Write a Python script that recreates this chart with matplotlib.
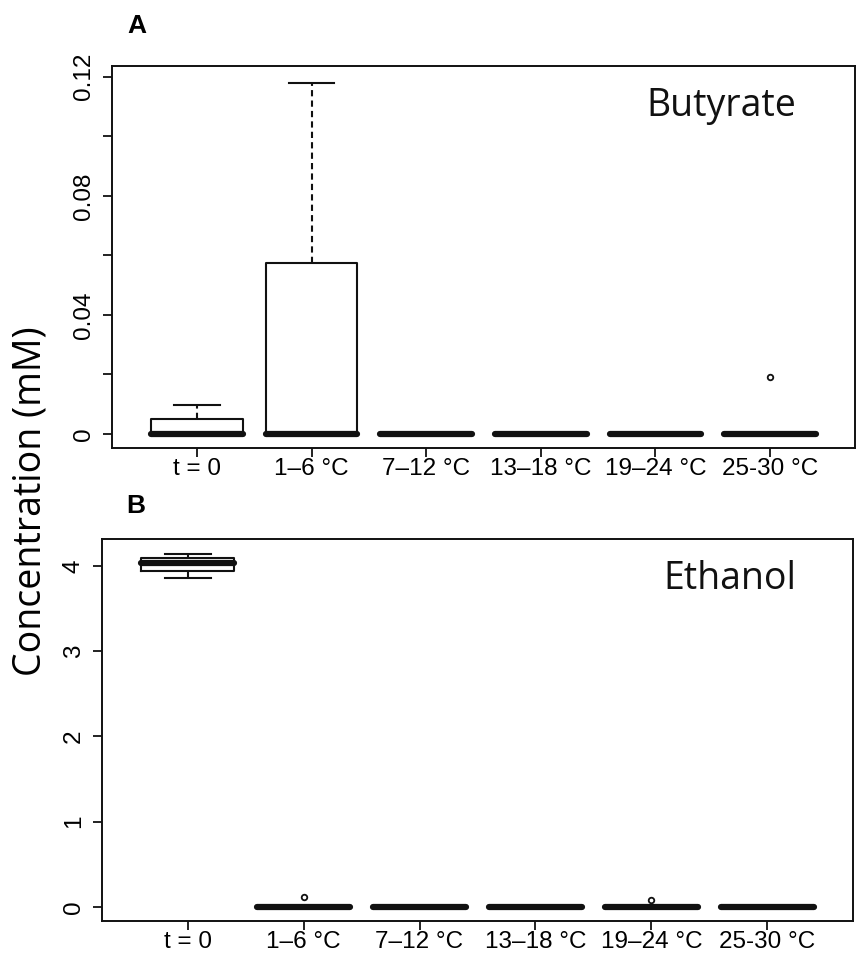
import matplotlib
matplotlib.use("Agg")
import matplotlib.pyplot as plt

# categorias (eixo x)
grupos = ["t = 0", "1–6 °C", "7–12 °C", "13–18 °C", "19–24 °C", "25-30 °C"]

# Painel A - butirato (mM)
but_whislo = [0, 0, 0, 0, 0, 0]
but_q1 = [0, 0, 0, 0, 0, 0]
but_med = [0, 0, 0, 0, 0, 0]
but_q3 = [0.005, 0.0575, 0, 0, 0, 0]
but_whishi = [0.0098, 0.118, 0, 0, 0, 0]
but_outliers = [[], [], [], [], [], [0.019]]

# Painel B - etanol (mM)
eta_whislo = [3.86, 0, 0, 0, 0, 0]
eta_q1 = [3.94, 0, 0, 0, 0, 0]
eta_med = [4.03, 0, 0, 0, 0, 0]
eta_q3 = [4.095, 0, 0, 0, 0, 0]
eta_whishi = [4.14, 0, 0, 0, 0, 0]
eta_outliers = [[], [0.12], [], [], [0.075], []]

FONTE_TICK = "Liberation Sans"
FONTE_TEXTO = "Open Sans"


def montar_stats(whislo, q1, med, q3, whishi, fliers):
    stats = []
    for i in range(len(grupos)):
        stats.append({
            "whislo": whislo[i], "q1": q1[i], "med": med[i],
            "q3": q3[i], "whishi": whishi[i], "fliers": fliers[i],
        })
    return stats


def desenhar_painel(ax, stats, ylim, yticks, ylabels, titulo, titulo_xy):
    ax.bxp(stats, positions=range(1, len(grupos) + 1), widths=0.8,
           patch_artist=False,
           boxprops=dict(color="#111111", linewidth=1.5),
           medianprops=dict(color="#111111", linewidth=4.5, solid_capstyle="round"),
           whiskerprops=dict(color="#111111", linewidth=1.5, linestyle=(0, (3, 2))),
           capprops=dict(color="#111111", linewidth=1.5),
           capwidths=0.4,
           flierprops=dict(marker="o", markersize=4, markerfacecolor="none",
                           markeredgecolor="#111111", markeredgewidth=1.3))
    ax.set_xlim(0.26, 6.74)
    ax.set_ylim(*ylim)
    ax.set_xticks(range(1, len(grupos) + 1))
    ax.set_xticklabels(grupos, fontsize=17.5, family=FONTE_TICK)
    ax.set_yticks(yticks)
    ax.set_yticklabels(ylabels, fontsize=17.5, family=FONTE_TICK,
                       rotation=90, va="center")
    ax.tick_params(direction="out", length=6.5, width=1.3, color="#111111", pad=6)
    ax.tick_params(axis="x", pad=1)
    for s in ax.spines.values():
        s.set_linewidth(1.4)
        s.set_color("#111111")
    ax.text(titulo_xy[0], titulo_xy[1], titulo, transform=ax.transAxes,
            fontsize=27, family=FONTE_TEXTO, ha="center", va="center",
            color="#111111")


fig = plt.figure(figsize=(8.61, 9.76), dpi=100)

axA = fig.add_axes([112 / 861, 1 - 448 / 976, 743 / 861, 382 / 976])
desenhar_painel(axA,
                montar_stats(but_whislo, but_q1, but_med, but_q3, but_whishi, but_outliers),
                (-0.0047, 0.1236),
                [0, 0.02, 0.04, 0.06, 0.08, 0.10, 0.12],
                ["0", "", "0.04", "", "0.08", "", "0.12"],
                "Butyrate", (0.82, 0.895))

axB = fig.add_axes([102 / 861, 1 - 921 / 976, 751 / 861, 382 / 976])
desenhar_painel(axB,
                montar_stats(eta_whislo, eta_q1, eta_med, eta_q3, eta_whishi, eta_outliers),
                (-0.166, 4.316),
                [0, 1, 2, 3, 4],
                ["0", "1", "2", "3", "4"],
                "Ethanol", (0.836, 0.895))

fig.text(137 / 861, 1 - 26 / 976, "A", fontsize=19, fontweight="bold",
         family=FONTE_TICK, ha="center", va="center")
fig.text(136 / 861, 1 - 506 / 976, "B", fontsize=19, fontweight="bold",
         family=FONTE_TICK, ha="center", va="center")
fig.text(0.035, 0.487, "Concentration (mM)", fontsize=27, family=FONTE_TEXTO,
         rotation=90, ha="center", va="center")

fig.savefig("out.png", dpi=100, facecolor="white")
